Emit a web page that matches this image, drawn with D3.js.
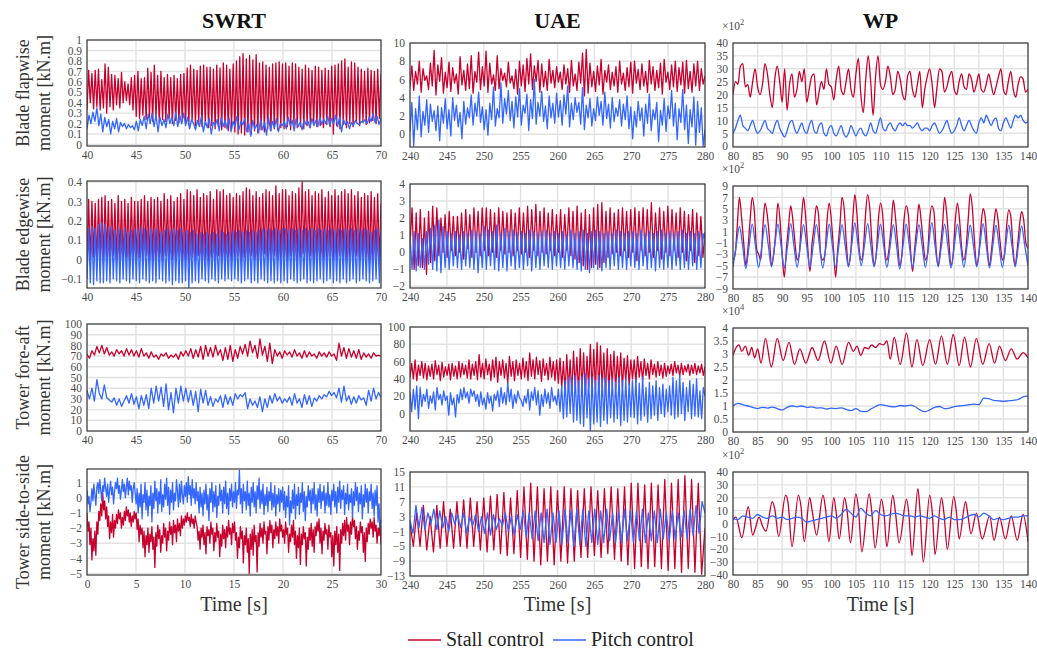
<!DOCTYPE html>
<html>
<head>
<meta charset="utf-8">
<script src="https://cdn.jsdelivr.net/npm/d3@7"></script>
<style>
  body { margin: 0; background: #fff; }
  svg text { font-family: "Liberation Serif", "DejaVu Serif", "Noto Serif", serif; }
</style>
</head>
<body>
<svg id="chart" width="1037" height="653"></svg>
<script>
// ---------- labels ----------
const turbines = ["SWRT", "UAE", "WP"];
const quantities = [
  ["Blade flapwise", "moment [kN.m]"],
  ["Blade edgewise", "moment [kN.m]"],
  ["Tower fore-aft", "moment [kN.m]"],
  ["Tower side-to-side", "moment [kN.m]"]
];
const seriesNames = ["Stall control", "Pitch control"];
const timeLabel = "Time [s]";

// ---------- tick values ----------
const swrtTimeTicks = [40, 45, 50, 55, 60, 65, 70];
const swrtSideTimeTicks = [0, 5, 10, 15, 20, 25, 30];
const uaeTimeTicks = [240, 245, 250, 255, 260, 265, 270, 275, 280];
const wpTimeTicks = [80, 85, 90, 95, 100, 105, 110, 115, 120, 125, 130, 135, 140];

const flapSwrtTicks = [0, 0.1, 0.2, 0.3, 0.4, 0.5, 0.6, 0.7, 0.8, 0.9, 1];
const flapUaeTicks = [0, 2, 4, 6, 8, 10];
const flapWpTicks = [0, 5, 10, 15, 20, 25, 30, 35, 40];
const edgeSwrtTicks = [-0.1, 0, 0.1, 0.2, 0.3, 0.4];
const edgeUaeTicks = [-2, -1, 0, 1, 2, 3, 4];
const edgeWpTicks = [-9, -7, -5, -3, -1, 1, 3, 5, 7, 9];
const foreSwrtTicks = [0, 10, 20, 30, 40, 50, 60, 70, 80, 90, 100];
const foreUaeTicks = [0, 20, 40, 60, 80, 100];
const foreWpTicks = [0, 0.5, 1, 1.5, 2, 2.5, 3, 3.5, 4];
const sideSwrtTicks = [-5, -4, -3, -2, -1, 0, 1];
const sideUaeTicks = [-13, -9, -5, -1, 3, 7, 11, 15];
const sideWpTicks = [-40, -30, -20, -10, 0, 10, 20, 30, 40];

// ---------- blade flapwise moment ----------
const flapSwrtStall = [
  0.33,0.71,0.40,0.68,0.34,0.71,0.36,0.72,0.33,0.62,0.35,0.77,0.30,0.74,0.36,0.67,0.33,0.66,0.38,0.63,0.35,0.69,0.40,0.60,0.42,0.58,0.38,0.64,0.33,0.66,
  0.27,0.70,0.25,0.63,0.28,0.64,0.24,0.73,0.26,0.69,0.22,0.76,0.25,0.66,0.21,0.70,0.24,0.64,0.22,0.67,0.25,0.64,0.20,0.66,0.23,0.63,0.21,0.67,0.22,0.68,
  0.20,0.73,0.19,0.76,0.22,0.72,0.18,0.71,0.20,0.75,0.17,0.76,0.19,0.74,0.16,0.74,0.18,0.72,0.15,0.76,0.17,0.73,0.14,0.78,0.16,0.76,0.13,0.72,0.15,0.77,
  0.12,0.80,0.10,0.84,0.11,0.87,0.09,0.82,0.12,0.85,0.10,0.81,0.13,0.86,0.11,0.78,0.14,0.79,0.12,0.76,0.15,0.74,0.13,0.77,0.15,0.78,0.14,0.79,0.16,0.77,
  0.15,0.78,0.17,0.75,0.14,0.78,0.18,0.77,0.16,0.74,0.17,0.72,0.15,0.76,0.18,0.73,0.16,0.71,0.19,0.75,0.17,0.74,0.18,0.71,0.16,0.73,0.19,0.71,0.17,0.75,
  0.10,0.76,0.18,0.77,0.15,0.80,0.19,0.82,0.16,0.74,0.20,0.79,0.17,0.78,0.21,0.74,0.18,0.72,0.22,0.70,0.19,0.73,0.21,0.71,0.23,0.70,0.20,0.72,0.25,0.68
];
const flapSwrtPitch = [
  0.15,0.28,0.20,0.31,0.22,0.35,0.18,0.29,0.12,0.26,0.17,0.24,0.10,0.22,0.15,0.25,0.12,0.21,0.17,0.20,0.15,0.19,0.16,0.18,0.14,
  0.22,0.13,0.24,0.18,0.27,0.15,0.29,0.20,0.30,0.17,0.28,0.12,0.26,0.18,0.24,0.16,0.29,0.20,0.26,0.18,0.31,0.17,0.28,0.20,0.30,
  0.18,0.26,0.15,0.24,0.20,0.14,0.23,0.17,0.27,0.12,0.22,0.16,0.25,0.10,0.21,0.18,0.24,0.13,0.26,0.17,0.23,0.15,0.25,0.12,0.22,
  0.17,0.27,0.14,0.22,0.19,0.25,0.12,0.20,0.08,0.23,0.15,0.19,0.11,0.24,0.14,0.21,0.09,0.26,0.13,0.22,0.16,0.25,0.12,0.20,0.18,
  0.22,0.15,0.26,0.18,0.23,0.13,0.25,0.17,0.21,0.14,0.24,0.19,0.22,0.16,0.25,0.18,0.23,0.17,0.26,0.19,0.24,0.20,0.27,0.18,0.25,
  0.20,0.28,0.17,0.26,0.12,0.24,0.19,0.22,0.15,0.21,0.18,0.23,0.20,0.19,0.22,0.21,0.24,0.20,0.26,0.22,0.30,0.21,0.27,0.19,0.25
];
const flapUaeStall = [
  5.2,7.5,4.8,6.9,5.5,8.0,4.6,7.2,5.9,6.4,4.9,7.8,5.3,9.2,4.3,7.6,5.8,8.4,4.5,6.8,5.1,7.9,4.7,7.3,5.6,6.6,4.4,8.5,5.4,7.0,4.8,7.7,5.0,8.6,4.5,6.9,5.7,9.0,4.9,7.4,
  5.3,9.1,4.6,7.8,5.5,6.5,4.8,8.6,5.0,7.2,5.9,6.7,5.2,7.9,5.6,6.4,5.0,7.1,4.4,8.0,5.3,7.6,4.7,8.3,5.5,8.8,4.9,7.5,5.8,8.1,4.6,7.7,5.2,6.9,4.8,8.2,5.6,7.0,5.1,7.4,
  5.7,6.8,4.9,7.6,5.5,7.2,4.6,8.1,5.3,6.6,4.8,7.9,5.6,8.9,4.2,9.3,4.5,7.8,5.2,6.9,4.7,7.5,5.4,8.2,4.4,7.0,5.7,7.6,4.9,6.8,5.3,7.4,4.6,8.0,5.5,6.7,4.8,7.3,5.2,7.9,
  4.5,8.0,5.6,7.1,4.9,7.7,5.3,6.9,4.6,8.1,5.5,7.4,4.8,7.0,5.1,7.8,4.4,8.2,5.7,6.8,4.9,7.6,5.2,8.0,4.7,7.3,5.4,7.9,4.5,8.1,5.0,6.9,4.6,7.7,5.3,8.0,4.8,7.2,5.5,6.4
];
const flapUaePitch = [
  0.3,3.5,-1.3,2.8,0.5,4.2,-0.3,2.5,1.0,3.8,0.2,3.3,1.4,2.6,0.4,3.1,-0.7,2.9,1.2,3.9,0.6,2.7,-0.2,4.0,1.5,3.2,0.8,2.4,-0.5,3.6,1.1,2.9,1.8,4.3,1.0,3.4,2.0,4.6,1.3,3.0,
  0.5,2.7,-0.1,3.4,1.6,5.2,0.9,2.8,1.8,5.6,1.2,3.9,2.2,4.8,1.5,3.6,0.7,4.1,1.9,5.0,1.0,3.2,2.3,4.4,0.4,3.8,1.7,6.0,1.1,3.5,2.0,4.7,1.4,3.1,0.6,4.2,1.8,3.4,1.2,4.5,
  1.9,3.7,1.0,4.3,2.2,5.3,0.8,3.4,1.6,4.0,2.4,3.5,1.1,5.1,0.5,3.2,1.8,3.9,0.9,2.8,1.5,4.1,2.1,3.6,1.0,4.6,1.7,3.3,0.7,4.0,1.4,2.9,2.0,3.8,0.9,3.3,1.6,4.2,0.6,3.0,
  -0.5,2.5,0.8,3.6,1.5,2.9,-0.2,3.3,1.2,4.4,0.4,2.7,1.6,3.5,-0.8,2.6,1.0,3.9,0.3,3.1,1.7,4.8,0.9,3.4,-0.6,2.8,1.3,4.9,0.5,3.2,-1.0,2.7,0.8,4.1,-1.2,3.6,0.2,2.9,-1.3,0.5
];
// WP flapwise, sampled every 0.5 s (x10^2 kN.m)
const flapWpStall = [
  20,25,24,31,32,23,24,19,25,30,23,20,24,32,28,20,15,26,31,25,
  17,30,14,24,28,19,22,29,25,30,17,22,27,28,16,21,25,22,30,24,
  23,18,26,31,22,20,25,30,22,19,28,34,20,13,26,35,25,12,27,35,
  24,22,25,31,27,20,22,29,26,20,18,27,29,22,19,24,29,15,22,27,
  30,24,15,23,30,29,21,23,27,29,22,20,25,28,23,22,28,26,21,24,
  28,22,21,24,28,24,20,23,27,30,22,20,25,29,22,19,24,27,26,21,22
];
const flapWpPitch = [
  5,7,10,12,8,7,6,8,10,7,5,6,8,10,7,6,5,8,10,7,
  5,3.5,6,9,10,7,5,7,9,6,5,8,10,6,5,8,9,5,4,7,
  8,5,4,6,8,5,3.5,5,8,6,4,6,7,5,4,6,9,6,5,8,
  11,7,6,8,9,7,6,8,9,8,9,8,8,7,8,9,7,6,7,7,
  6,8,9,7,5,6,8,10,7,5,6,8,11,8,6,8,10,8,6,5,
  9,11,9,12,10,8,10,11,7,6,9,11,9,7,10,12,11,12,10,9,9.5
];

// ---------- blade edgewise moment ----------
const edgeSwrtStall = [
  0.00,0.31,-0.02,0.30,0.01,0.29,-0.03,0.31,0.00,0.32,-0.02,0.33,0.01,0.30,-0.01,0.31,0.02,0.29,-0.02,0.33,0.00,0.30,-0.03,0.31,0.01,0.29,-0.01,0.32,0.00,0.30,
  -0.02,0.30,0.01,0.31,-0.01,0.33,0.02,0.30,-0.02,0.32,0.00,0.31,-0.03,0.32,0.01,0.30,-0.01,0.34,0.02,0.31,-0.02,0.33,0.00,0.30,-0.01,0.32,0.01,0.34,-0.02,0.31,
  0.00,0.36,-0.02,0.35,0.01,0.33,-0.01,0.36,0.02,0.32,-0.02,0.34,0.00,0.33,-0.03,0.35,0.01,0.31,-0.01,0.36,0.02,0.35,0.00,0.36,-0.02,0.33,0.01,0.34,-0.01,0.32,
  0.00,0.34,0.02,0.33,-0.02,0.35,0.01,0.37,-0.01,0.36,0.02,0.33,0.00,0.35,-0.02,0.32,0.01,0.34,0.03,0.36,0.00,0.35,-0.01,0.33,0.02,0.38,0.00,0.34,-0.02,0.36,
  0.01,0.36,-0.01,0.33,0.02,0.35,0.00,0.34,-0.02,0.37,0.01,0.40,0.03,0.35,-0.01,0.36,0.02,0.33,0.00,0.35,-0.02,0.34,0.01,0.36,0.00,0.32,-0.01,0.35,0.02,0.33,
  0.00,0.36,-0.01,0.33,0.02,0.35,0.00,0.36,-0.02,0.34,0.01,0.36,-0.01,0.33,0.02,0.35,0.00,0.32,-0.01,0.34,0.01,0.33,-0.02,0.35,0.00,0.32,0.01,0.34,-0.03,0.29
];
const edgeSwrtPitch = [
  -0.10,0.16,-0.12,0.17,-0.13,0.16,-0.11,0.18,-0.12,0.19,-0.12,0.18,-0.11,0.16,-0.12,0.17,-0.10,0.15,-0.11,0.16,-0.12,0.15,-0.10,0.16,-0.11,0.14,-0.12,0.15,-0.10,0.16,
  -0.11,0.15,-0.12,0.17,-0.10,0.16,-0.11,0.15,-0.12,0.16,-0.11,0.15,-0.12,0.16,-0.10,0.14,-0.11,0.15,-0.12,0.16,-0.11,0.15,-0.13,0.16,-0.11,0.15,-0.12,0.16,-0.12,0.14,
  -0.11,0.15,-0.15,0.14,-0.12,0.15,-0.11,0.13,-0.12,0.14,-0.10,0.13,-0.11,0.14,-0.12,0.13,-0.10,0.14,-0.11,0.13,-0.12,0.15,-0.10,0.14,-0.11,0.13,-0.10,0.14,-0.11,0.15,
  -0.10,0.14,-0.11,0.15,-0.12,0.14,-0.11,0.15,-0.10,0.14,-0.12,0.15,-0.11,0.14,-0.12,0.15,-0.10,0.16,-0.11,0.15,-0.12,0.16,-0.11,0.15,-0.12,0.16,-0.11,0.15,-0.12,0.16,
  -0.11,0.16,-0.12,0.15,-0.10,0.16,-0.11,0.15,-0.12,0.16,-0.11,0.15,-0.10,0.16,-0.12,0.15,-0.11,0.16,-0.12,0.15,-0.11,0.16,-0.10,0.15,-0.12,0.16,-0.11,0.15,-0.10,0.16,
  -0.12,0.15,-0.11,0.16,-0.12,0.15,-0.10,0.16,-0.12,0.15,-0.11,0.16,-0.10,0.15,-0.12,0.16,-0.11,0.15,-0.10,0.16,-0.11,0.15,-0.12,0.14,-0.11,0.15,-0.10,0.16,-0.12,0.15
];
const edgeUaeStall = [
  0.5,2.6,-1.0,2.3,-0.8,2.5,-0.9,2.0,-1.3,2.4,-0.6,2.7,-0.5,2.6,-0.2,2.0,0.0,2.2,
  -0.3,2.4,0.1,2.1,-0.2,2.1,0.0,2.3,-0.4,2.5,0.2,2.2,-0.3,2.6,0.0,2.4,-0.2,2.6,
  0.1,2.6,-0.2,2.5,0.0,2.3,-0.3,2.6,0.1,2.4,-0.1,2.3,0.0,2.5,-0.2,2.3,0.1,2.6,
  -0.1,2.3,0.0,2.7,-0.3,2.5,0.1,2.8,-0.2,2.4,0.0,2.6,-0.1,2.3,0.1,2.5,-0.2,2.2,
  0.0,2.5,-0.3,2.2,0.1,2.6,-0.2,2.4,-0.4,2.7,-0.6,2.3,-0.8,2.5,-1.0,2.2,-0.9,2.6,
  -0.7,2.8,-0.9,2.9,-0.6,2.4,-0.3,2.6,-0.1,2.3,0.0,2.5,-0.2,2.6,0.1,2.4,-0.3,2.5,
  0.0,2.6,-0.5,2.4,0.1,2.6,-0.2,2.5,0.0,2.9,-0.3,2.3,0.1,2.6,-0.4,2.4,0.0,2.7,
  -0.2,2.5,0.1,2.3,-0.3,2.6,0.0,2.4,-0.5,2.2,0.1,2.5,-0.6,2.3,-0.2,2.1,-0.3,1.2
];
const edgeUaePitch = [
  0.9,-1.0,1.2,-1.1,1.1,-0.9,0.8,-1.0,1.2,-0.7,1.4,-1.0,1.6,-1.1,1.9,-1.2,1.5,-0.9,
  1.2,-1.0,1.1,-0.8,1.2,-0.9,1.0,-1.0,1.2,-0.8,1.1,-0.9,1.3,-1.0,1.2,-1.2,1.1,-0.9,
  1.5,-1.0,1.3,-0.8,1.2,-1.0,1.6,-1.1,1.1,-0.9,1.4,-1.1,1.2,-0.8,1.3,-1.0,1.1,-0.9,
  1.2,-1.0,1.1,-0.8,1.3,-1.1,1.2,-0.9,1.1,-1.0,1.2,-0.8,1.3,-0.9,1.1,-1.0,1.2,-0.8,
  1.1,-0.9,1.2,-1.0,1.0,-0.8,1.3,-0.9,1.1,-1.0,1.2,-1.1,1.3,-1.0,1.1,-1.2,1.2,-0.9,
  1.3,-1.0,1.2,-1.1,1.1,-0.9,1.2,-1.0,1.1,-0.8,1.3,-1.0,1.2,-0.9,1.1,-1.0,1.2,-0.8,
  1.2,-0.9,1.1,-1.0,1.3,-0.8,1.1,-1.0,1.2,-0.9,1.1,-1.1,1.2,-0.9,1.3,-1.0,1.1,-0.9,
  1.2,-1.0,1.1,-0.8,1.2,-1.0,1.3,-0.9,1.1,-1.0,1.2,-0.8,1.1,-1.0,1.2,-0.9,1.1,0.6
];
// WP edgewise (x10^2 kN.m): six samples per rotor cycle for stall, four for pitch
const edgeWpStall = [
  -4,-3,2,7,3.5,-1,  -5,-2,3,7,4.5,-2,  -3,-4,2,6,4,0,  -5,-3,1,6,3,-3,  -7,-2,2,5.5,3,-1,
  -4,-3,3,7,3.5,-2,  -6,-1,2,5.5,4,-3,  -4,-3,3,6,3,-2,  -7,-2,2,7,5,-1,  -5,-3,3,7.5,4,-2,
  -4,-2,4,7.5,5,-1,  -5,-3,3,6,4,-2,  -4,-2,2,6.5,3.5,-1,  -5,-3,3,5.5,4,-2,  -6,-2,2,5.8,3,-1,
  -4,-3,3,5.5,4.5,-2,  -5,-2,2,7,4,-1,  -5,-3,3,6,3,-2,  -4,-2,3,7.6,5,-1,  -5,-3,2,5,3.5,-2,
  -5,-2,2,5,3,-1,  -4,-3,2,4.8,3.5,-2,  -5,-2,2,4.5,3,-1,  -2
];
const edgeWpPitch = [
  -5.2,-1.5,1.9,-1.5, -5.5,-1.6,2.3,-1.5, -5.3,-1.5,2.2,-1.4, -5.2,-1.5,2.3,-1.5, -5.4,-1.6,2.4,-1.5,
  -5.3,-1.5,2.2,-1.6, -5.2,-1.5,2.2,-1.5, -5.4,-1.6,2.3,-1.5, -5.3,-1.5,2.2,-1.5, -5.2,-1.5,2.5,-1.4,
  -5.0,-1.4,2.4,-1.5, -5.2,-1.5,2.3,-1.5, -5.3,-1.6,2.2,-1.5, -5.6,-1.6,2.3,-1.5, -5.3,-1.5,2.2,-1.5,
  -5.3,-1.5,2.6,-1.4, -5.2,-1.5,2.3,-1.5, -5.4,-1.6,2.3,-1.5, -5.3,-1.5,2.1,-1.5, -5.2,-1.5,2.4,-1.5,
  -5.4,-1.6,2.1,-1.5, -5.3,-1.6,2.1,-1.5, -5.2,-1.5,2.0,-1.5, -5.0
];

// ---------- tower fore-aft moment ----------
const foreSwrtStall = [
  72,68,75,71,79,73,80,72,78,71,74,70,76,72,75,70,77,71,76,70,
  75,69,77,70,73,68,74,69,71,67,72,70,73,68,71,69,72,67,74,70,
  75,70,77,68,76,69,79,67,80,70,78,69,80,71,76,66,78,67,80,65,
  76,68,79,72,81,70,84,73,80,68,86,71,79,65,82,63,76,70,74,68,
  75,71,74,69,76,70,73,68,75,69,74,70,72,68,74,70,73,69,74,70,
  72,66,82,70,78,68,77,69,75,68,76,67,73,69,72,68,73,70,71,70
];
const foreSwrtPitch = [
  38,30,40,28,48,35,30,43,31,29,27,31,24,30,23,28,33,26,35,25,
  32,21,33,24,34,21,40,26,42,28,41,23,44,20,36,17,40,26,42,28,
  40,27,38,24,37,18,39,26,38,24,32,23,30,27,33,22,34,25,32,24,
  35,30,34,32,36,21,30,24,28,22,32,18,30,22,33,26,35,28,32,26,
  30,27,32,24,35,26,30,22,34,25,33,23,31,28,33,30,34,32,37,33,
  36,31,40,27,42,28,33,25,32,26,33,29,31,24,38,28,40,30,36,31
];
const foreUaeStall = [
  42,58,40,62,38,56,44,60,41,58,39,55,43,57,40,61,45,56,38,59,42,54,
  44,57,39,58,43,55,40,60,42,58,45,56,41,62,40,57,44,60,39,68,42,58,
  40,63,45,57,38,62,42,65,36,60,44,62,41,58,35,66,43,60,38,62,44,58,
  40,64,42,60,38,70,43,62,40,65,45,61,37,63,44,58,39,65,42,60,38,62,
  35,64,30,60,25,68,28,62,22,72,30,65,24,75,28,70,22,66,30,80,25,74,
  28,82,24,78,30,70,22,75,26,68,32,72,28,66,35,70,30,64,38,67,33,62,
  40,62,36,66,42,60,38,63,44,58,40,62,45,57,42,60,44,56,41,58,43,55,
  46,57,44,60,47,56,43,58,45,55,48,57,44,56,46,58,45,55,47,57,44,54
];
const foreUaePitch = [
  25,2,28,5,32,-6,30,8,22,14,28,6,20,12,25,4,30,16,22,10,26,15,
  20,-2,24,10,18,-4,22,12,28,16,30,18,25,12,28,20,26,14,22,8,25,10,
  18,5,24,12,20,3,22,15,26,8,30,12,24,10,35,14,28,6,22,12,26,18,
  15,8,20,12,28,4,25,15,30,10,26,-2,22,8,28,12,24,6,30,14,20,10,
  28,2,32,-6,38,-4,42,0,40,-10,44,-8,38,-12,42,-15,46,-5,40,-20,42,-12,
  38,-10,44,-15,40,-8,42,-12,38,-5,40,-10,36,-6,42,-14,38,-8,40,-10,35,-4,
  38,-5,40,-12,35,-8,42,-3,30,-10,36,-6,32,-2,38,-8,30,0,34,-4,28,2,
  32,-2,42,-6,38,-4,44,0,36,-8,30,2,38,-6,34,-3,40,-4,26,-6,30,20
];
// WP fore-aft (x10^4 kN.m): stall given at its turning points
const foreWpStallTime = [
  80.0,80.5,81.2,81.8,82.5,83.2,83.8,84.4,85.0,85.7,86.6,87.8,89.0,90.2,91.4,92.5,93.6,94.8,96.1,97.3,
  98.6,99.9,101.0,102.2,103.5,104.5,105.2,106.0,106.8,107.5,108.2,109.0,109.8,110.6,111.3,112.0,112.8,114.0,115.3,116.4,
  117.4,118.6,120.0,121.2,122.4,123.6,124.8,126.0,127.1,128.3,129.5,130.8,132.1,133.2,134.2,135.4,136.6,137.8,139.0,140.0
];
const foreWpStall = [
  2.95,3.2,3.35,3.1,3.3,2.95,3.25,2.85,3.2,2.65,3.6,2.5,3.6,2.75,3.45,2.6,3.2,2.65,3.25,2.75,
  3.5,2.65,3.3,2.6,3.45,3.1,3.3,2.95,3.25,3.2,3.35,3.25,3.4,3.35,3.5,2.8,3.65,2.6,3.8,2.5,
  3.55,2.55,3.55,2.6,3.7,2.6,3.75,2.55,3.65,2.5,3.6,2.6,3.4,2.65,3.3,2.75,3.2,2.8,3.05,2.85
];
const foreWpPitch = [
  1.0,1.1,1.05,1.0,0.95,0.9,0.95,0.92,0.96,0.9,0.85,0.95,1.0,0.97,1.0,0.95,0.97,0.92,0.93,0.88,
  0.92,0.9,0.93,0.87,0.82,0.9,0.8,0.78,0.88,0.98,1.05,1.02,0.98,0.97,1.02,1.0,1.03,0.98,0.85,0.78,
  0.85,0.95,0.98,0.9,0.92,0.98,1.0,1.02,1.05,1.07,1.05,1.3,1.28,1.22,1.2,1.18,1.2,1.22,1.25,1.35,1.38
];

// ---------- tower side-to-side moment ----------
const sideSwrtStall = [
  -1.0,-2.2,-1.6,-3.1,-2.0,-4.1,-2.7,-3.5,-2.2,-3.8,-1.6,-2.4,-0.9,-1.5,-0.4,-1.2,0.3,-0.8,-0.2,-1.4,-0.6,-1.9,-1.2,-2.7,-1.6,-2.3,-1.1,-2.6,-1.5,-2.0,-1.1,-1.7,-0.8,-1.4,-1.0,-2.0,-1.3,-1.8,-0.9,-1.5,-0.6,-1.2,-0.8,-1.6,-1.0,-1.9,-1.2,-1.6,-0.9,-1.4,
  -1.0,-2.1,-1.4,-2.9,-1.8,-2.4,-2.0,-3.3,-2.2,-3.9,-2.5,-3.1,-2.0,-3.6,-2.4,-2.9,-1.9,-3.4,-2.6,-4.6,-2.3,-3.2,-1.8,-2.7,-2.1,-3.6,-2.5,-3.0,-1.7,-2.6,-2.0,-3.5,-2.2,-2.8,-1.6,-2.4,-1.9,-3.1,-1.5,-2.3,-1.8,-2.9,-1.4,-2.2,-1.7,-2.5,-1.2,-2.0,-1.4,-1.8,
  -1.2,-1.6,-1.0,-1.5,-1.3,-1.9,-1.1,-1.7,-1.4,-2.0,-1.2,-1.6,-1.9,-2.8,-2.2,-3.4,-2.0,-2.6,-1.8,-3.1,-2.3,-3.7,-1.9,-2.5,-2.1,-3.0,-1.6,-2.4,-2.0,-3.5,-2.3,-2.9,-1.7,-2.6,-2.2,-3.9,-2.4,-3.2,-1.8,-2.7,-2.1,-3.3,-1.9,-2.6,-1.5,-2.4,-2.0,-3.1,-1.7,-2.3,
  -1.6,-2.8,-2.3,-4.0,-2.6,-3.3,-1.9,-2.7,-2.2,-4.3,-2.5,-3.1,-2.0,-3.6,-2.7,-5.0,-2.4,-3.4,-2.1,-3.8,-1.8,-2.9,-2.5,-4.9,-2.3,-3.2,-1.7,-2.6,-2.0,-3.0,-1.6,-2.4,-2.2,-3.7,-1.9,-2.8,-1.5,-2.3,-1.8,-3.3,-2.1,-2.7,-1.6,-2.5,-1.9,-3.0,-1.4,-2.2,-1.8,-2.6,
  -2.1,-3.0,-1.6,-2.4,-2.0,-3.6,-2.4,-2.9,-1.8,-2.6,-1.5,-3.1,-2.2,-4.0,-2.5,-3.3,-2.0,-4.4,-2.4,-3.1,-1.9,-2.7,-2.3,-4.5,-2.6,-3.4,-2.0,-2.8,-1.7,-3.2,-2.1,-3.6,-1.9,-2.5,-1.6,-2.2,-1.4,-3.0,-2.0,-3.7,-2.2,-2.8,-1.7,-2.4,-2.1,-3.4,-1.8,-2.6,-2.3,-3.9,
  -2.5,-4.5,-2.2,-3.1,-1.9,-3.6,-2.4,-4.8,-2.1,-3.0,-1.7,-2.5,-1.5,-2.8,-1.3,-2.2,-1.8,-3.1,-1.6,-2.4,-1.2,-1.9,-1.5,-2.7,-1.9,-3.4,-2.2,-2.8,-1.6,-2.3,-1.9,-3.6,-2.3,-4.2,-2.0,-2.9,-1.7,-2.4,-1.4,-2.0,-1.6,-2.6,-1.3,-2.2,-1.8,-3.0,-2.0,-2.5,-1.5,-3.1
];
const sideSwrtPitch = [
  0.5,-0.4,0.1,-0.9,-0.3,0.6,-0.2,0.9,0.2,-0.5,0.7,1.0,0.3,1.2,0.5,-0.2,0.8,0.4,1.3,0.6,0.1,0.9,-0.3,0.5,1.1,0.2,0.7,-0.4,0.4,1.0,0.6,1.3,0.3,0.8,-0.1,0.5,1.2,0.4,0.9,0.0,0.7,1.3,0.2,1.1,0.5,0.8,-0.3,0.6,1.0,0.3,
  -0.4,0.6,-1.0,0.3,-0.6,0.9,-1.4,0.2,-0.3,1.0,-0.8,0.5,-1.2,0.1,-0.5,0.8,-1.6,0.3,-0.7,1.1,-0.2,0.6,-1.0,0.4,-0.4,1.2,-0.9,0.2,-0.6,0.9,-0.1,1.3,-0.5,0.7,-1.1,0.5,-0.3,1.0,-0.8,0.3,-0.2,1.2,0.4,-0.6,0.9,-0.3,1.1,0.2,-0.4,0.8,
  0.1,1.0,-0.3,1.4,0.2,0.8,-0.5,1.2,0.0,0.6,-0.4,1.0,-0.2,0.4,-1.0,0.7,-0.6,0.3,-1.2,0.5,-0.4,0.9,-0.8,0.2,-1.5,0.6,-0.3,1.0,-0.9,0.4,-0.6,0.8,-1.3,0.1,-0.5,0.9,-0.2,0.5,-1.0,0.7,-0.4,1.1,-0.7,0.3,-1.1,0.6,-0.2,0.9,-0.6,0.4,
  -0.3,1.0,-0.7,0.5,0.2,1.8,-0.4,0.6,-1.0,0.9,-0.2,0.4,-0.8,1.1,-0.5,0.3,-1.2,0.7,-0.3,1.0,-0.6,0.4,-1.0,0.8,-0.1,1.3,-0.7,0.5,-0.4,0.9,-1.1,0.2,-0.5,0.7,-0.9,0.4,-0.2,1.0,-0.8,0.3,-0.6,0.8,-1.2,0.2,-0.4,0.6,-0.9,0.5,-0.3,0.7,
  -0.8,0.4,-1.3,0.1,-0.6,0.8,-1.8,-0.2,-1.0,0.5,-0.7,0.9,-1.4,0.2,-0.5,0.7,-1.1,0.3,-0.3,1.0,-0.9,0.4,-1.5,0.1,-0.6,0.8,-0.2,0.5,-1.0,0.6,-0.4,1.0,-0.8,0.2,-1.2,0.6,-0.3,0.9,-0.7,0.4,-0.2,0.8,-1.0,0.3,-0.5,1.0,-0.6,0.2,-1.1,0.5,
  -0.2,0.9,-0.6,0.4,-1.0,0.7,-0.3,1.1,-0.7,0.5,-0.1,0.8,-1.1,0.3,-0.4,0.9,-0.8,0.2,-0.3,0.6,-1.3,0.4,-0.5,1.0,-0.2,0.7,-0.9,0.3,-0.4,0.8,-1.4,0.2,-0.6,0.9,-0.3,0.6,-1.0,0.4,-0.2,0.9,-0.7,0.3,-1.2,0.5,-0.5,0.8,-1.6,-0.4,-2.0,-1.5
];
const sideUaeStall = [
  1,-5,4,-5,6,-6,3,-6.5,6,-5.5,7,-5,5,-5.5,7,-5,7.5,-5.5,8,-5,7,-6,8,-6.5,8.5,-6,9,-7,9.5,-7.5,
  8,-7,10,-8,11,-8.5,12,-9,11,-10,10.5,-9,11,-10,10,-9,11,-9.5,10.5,-9,10,-8,10.5,-8,11,-7.5,10,-8,10.5,-7,
  11,-8.5,10.5,-9,11,-10,12,-11,12,-10.5,11.5,-11,12,-10.5,11.5,-11,13,-11.5,12,-11,13,-12,14,-11,13,-12,12,-12.5,0
];
const sideUaePitch = [
  2,-1.5,6,0,5.5,-0.5,4,1,5,-0.5,4.5,0,3,-1,4,1,3.5,0,4,-1.5,3,0.5,3.5,-1,3,
  -1.5,4,-2,3.5,-0.5,2.5,0.5,4,-1,3,-2,3.5,-0.5,4.5,-2.5,4,-3,4.5,-3.5,4,-4,5,-4.5,4,-4,
  4.5,-4.5,5,-4,4.5,-5,5,-4.5,5,-5,4.5,-4,5,-4.5,4.5,-4,5,-3.5,4,-4,4.5,-4,5,-3.5,4.5,
  -4,4.5,-3.5,5,-4,4,-3.5,4.5,-4,5,-3,4,-3.5,4.5,-3,4,-2.5,4.5,-3,5,-2,6,-1.5,7,4
];
// WP side-to-side (x10^2 kN.m): stall given at its turning points
const sideWpStallTime = [
  80.0,80.6,81.8,83.1,84.0,84.6,85.3,86.0,86.7,88.0,88.5,89.3,90.7,91.2,92.0,93.3,93.8,94.5,95.6,96.1,
  97.0,98.3,98.8,99.5,100.5,101.0,101.6,102.7,103.2,103.9,105.0,105.5,106.2,107.7,108.2,108.9,110.2,110.7,111.3,112.5,
  113.0,113.8,115.3,115.8,116.4,117.6,118.0,118.7,120.0,120.5,121.1,122.4,122.9,123.6,124.9,125.4,126.0,127.3,127.8,128.4,
  129.5,130.7,132.2,133.1,134.2,135.4,136.6,137.8,139.0,140.0
];
const sideWpStall = [
  3,5,-11,13,-9,-3,5,-2,-6,17,11,-10,22,16,-18,22,14,-14,20,10,
  -9,22,12,-14,20,8,-12,20,10,-15,23,12,-22,23,10,-19,19,8,-18,22,
  10,-15,19,6,-25,27,12,-30,22,10,-24,20,8,-20,21,10,-12,17,6,-8,
  8,-12,6,-13,5,-12,6,-13,7,-14
];
const sideWpPitch = [
  4,3,6,5,4,7,5,4,6,4,5,3,4,5,4,1,2,3,4,5,
  6,4,7,11,8,5,12,8,6,10,7,6,7,8,7,6,6,5,6,5,
  4,6,4,3,5,3,3,4,6,7,5,8,6,3,4,3,4,5,5,6,6
];

// ---------- layout ----------
const RED = "#c8002d", BLUE = "#3366ff";
const SERIF = '"Liberation Serif", "DejaVu Serif", "Noto Serif", serif';
const colX = [[87, 381], [410, 705], [733, 1028]];
const rowY = [
  [[40, 146], [43, 147], [43, 147]],
  [[181, 288], [184, 288], [186, 289]],
  [[324, 431], [327, 431], [328, 432]],
  [[469, 575], [472, 576], [472, 575]]
];

// sample helpers: evenly spaced samples over [t0, t1], or explicit time/value pairs
const even = (vals, t0, t1) => vals.map((v, i) => [t0 + i * (t1 - t0) / (vals.length - 1), v]);
const paired = (ts, vals) => ts.map((t, i) => [t, vals[i]]);

const panels = [
  { r: 0, c: 0, xd: [40, 70], xt: swrtTimeTicks, yd: [-0.015, 1], yt: flapSwrtTicks,
    stall: even(flapSwrtStall, 40, 70), pitch: even(flapSwrtPitch, 40, 70) },
  { r: 0, c: 1, xd: [240, 280], xt: uaeTimeTicks, yd: [-1.4, 10], yt: flapUaeTicks,
    stall: even(flapUaeStall, 240, 280), pitch: even(flapUaePitch, 240, 280) },
  { r: 0, c: 2, xd: [80, 140], xt: wpTimeTicks, yd: [-0.3, 40], yt: flapWpTicks, exp: 2,
    stall: even(flapWpStall, 80, 140), pitch: even(flapWpPitch, 80, 140), smooth: true },
  { r: 1, c: 0, xd: [40, 70], xt: swrtTimeTicks, yd: [-0.147, 0.405], yt: edgeSwrtTicks,
    stall: even(edgeSwrtStall, 40, 70), pitch: even(edgeSwrtPitch, 40, 70) },
  { r: 1, c: 1, xd: [240, 280], xt: uaeTimeTicks, yd: [-2.1, 4], yt: edgeUaeTicks,
    stall: even(edgeUaeStall, 240, 280), pitch: even(edgeUaePitch, 240, 280) },
  { r: 1, c: 2, xd: [80, 140], xt: wpTimeTicks, yd: [-9.1, 9], yt: edgeWpTicks, exp: 2,
    stall: even(edgeWpStall, 80, 140), pitch: even(edgeWpPitch, 80, 140), smooth: true },
  { r: 2, c: 0, xd: [40, 70], xt: swrtTimeTicks, yd: [0, 100], yt: foreSwrtTicks,
    stall: even(foreSwrtStall, 40, 70), pitch: even(foreSwrtPitch, 40, 70) },
  { r: 2, c: 1, xd: [240, 280], xt: uaeTimeTicks, yd: [-20.3, 100], yt: foreUaeTicks,
    stall: even(foreUaeStall, 240, 280), pitch: even(foreUaePitch, 240, 280) },
  { r: 2, c: 2, xd: [80, 140], xt: wpTimeTicks, yd: [0, 4], yt: foreWpTicks, exp: 4,
    stall: paired(foreWpStallTime, foreWpStall), pitch: even(foreWpPitch, 80, 140), smooth: true },
  { r: 3, c: 0, xd: [0, 30], xt: swrtSideTimeTicks, yd: [-5.1, 1.9], yt: sideSwrtTicks,
    stall: even(sideSwrtStall, 0, 30), pitch: even(sideSwrtPitch, 0, 30) },
  { r: 3, c: 1, xd: [240, 280], xt: uaeTimeTicks, yd: [-13, 15], yt: sideUaeTicks,
    stall: even(sideUaeStall, 240, 280), pitch: even(sideUaePitch, 240, 280) },
  { r: 3, c: 2, xd: [80, 140], xt: wpTimeTicks, yd: [-40, 40], yt: sideWpTicks, exp: 2,
    stall: paired(sideWpStallTime, sideWpStall), pitch: even(sideWpPitch, 80, 140), smooth: true }
];

const svg = d3.select("#chart");
const fmt = d3.format("~g");

panels.forEach((p, k) => {
  const [x0, x1] = colX[p.c];
  const [y0, y1] = rowY[p.r][p.c];
  const x = d3.scaleLinear().domain(p.xd).range([x0, x1]);
  const y = d3.scaleLinear().domain(p.yd).range([y1, y0]);
  const g = svg.append("g");

  // grid
  g.append("g").selectAll("line").data(p.xt).join("line")
    .attr("x1", d => x(d)).attr("x2", d => x(d)).attr("y1", y0).attr("y2", y1)
    .attr("stroke", "#e2e2e2").attr("stroke-width", 1.4);
  g.append("g").selectAll("line").data(p.yt).join("line")
    .attr("x1", x0).attr("x2", x1).attr("y1", d => y(d)).attr("y2", d => y(d))
    .attr("stroke", "#e2e2e2").attr("stroke-width", 1.4);

  // series
  const clipId = "clip" + k;
  svg.append("clipPath").attr("id", clipId).append("rect")
    .attr("x", x0).attr("y", y0).attr("width", x1 - x0).attr("height", y1 - y0);
  const line = d3.line().x(d => x(d[0])).y(d => y(d[1]))
    .curve(p.smooth ? d3.curveMonotoneX : d3.curveLinear);
  const lg = g.append("g").attr("clip-path", `url(#${clipId})`);
  [[p.stall, RED], [p.pitch, BLUE]].forEach(([pts, col]) => {
    lg.append("path").attr("d", line(pts)).attr("fill", "none")
      .attr("stroke", col).attr("stroke-width", 1.3).attr("stroke-linejoin", "round");
  });

  // frame
  g.append("rect").attr("x", x0).attr("y", y0).attr("width", x1 - x0).attr("height", y1 - y0)
    .attr("fill", "none").attr("stroke", "#3a3a3a").attr("stroke-width", 1.2);

  // axes
  const ax = g.append("g").attr("transform", `translate(0,${y1})`)
    .call(d3.axisBottom(x).tickValues(p.xt).tickSize(0).tickPadding(5).tickFormat(fmt));
  const ay = g.append("g").attr("transform", `translate(${x0},0)`)
    .call(d3.axisLeft(y).tickValues(p.yt).tickSize(0).tickPadding(5).tickFormat(fmt));
  [ax, ay].forEach(a => {
    a.attr("font-family", SERIF).attr("font-size", 11.5);
    a.select(".domain").remove();
    a.selectAll("text").attr("fill", "#4a4a4a");
  });

  // power-of-ten multiplier
  if (p.exp) {
    const t = g.append("text").attr("x", x0 - 11).attr("y", y0 - 13)
      .attr("font-size", 11.5).attr("fill", "#4a4a4a");
    t.append("tspan").text("×10");
    t.append("tspan").attr("dy", -5).attr("font-size", 8.5).text(String(p.exp));
  }
});

// column titles
turbines.forEach((name, c) => {
  svg.append("text").attr("x", (colX[c][0] + colX[c][1]) / 2).attr("y", 28)
    .attr("text-anchor", "middle").attr("font-size", 22).attr("font-weight", "bold")
    .attr("fill", "#111").text(name);
});

// row titles
quantities.forEach((lines, r) => {
  const cy = (rowY[r][0][0] + rowY[r][0][1]) / 2;
  lines.forEach((txt, j) => {
    svg.append("text")
      .attr("transform", `translate(${29 + j * 21},${cy}) rotate(-90)`)
      .attr("text-anchor", "middle").attr("font-size", 18).attr("fill", "#333").text(txt);
  });
});

// time labels
colX.forEach(([a, b]) => {
  svg.append("text").attr("x", (a + b) / 2).attr("y", 611)
    .attr("text-anchor", "middle").attr("font-size", 20).attr("fill", "#333").text(timeLabel);
});

// legend
const legend = svg.append("g");
[[408, RED, seriesNames[0]], [553, BLUE, seriesNames[1]]].forEach(([lx, col, name]) => {
  legend.append("line").attr("x1", lx).attr("x2", lx + 33).attr("y1", 640).attr("y2", 640)
    .attr("stroke", col).attr("stroke-width", 1.3);
  legend.append("text").attr("x", lx + 38).attr("y", 646).attr("font-size", 20)
    .attr("fill", "#222").text(name);
});
</script>
</body>
</html>
